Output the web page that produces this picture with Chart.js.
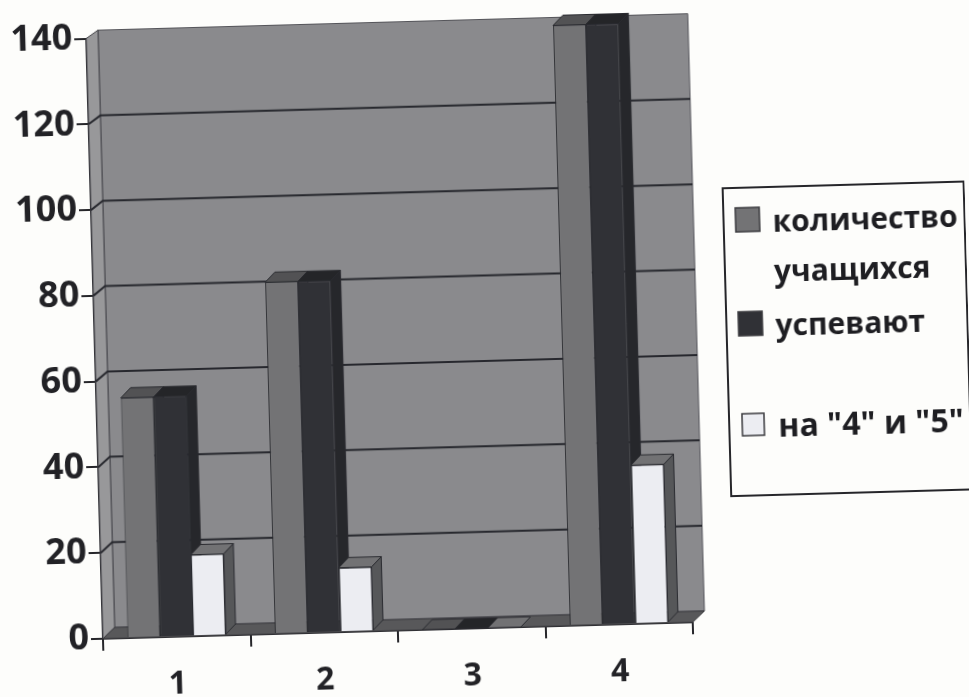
<!DOCTYPE html>
<html><head><meta charset="utf-8">
<style>
html,body{margin:0;padding:0;background:#fdfdfb;overflow:hidden;width:969px;height:697px}
#c{display:block;transform:rotate(-1.6deg);transform-origin:484px 348px}
</style>
<script src="https://cdn.jsdelivr.net/npm/chart.js@4"></script>
</head><body><canvas id="c" width="969" height="697"></canvas>
<script>
const categories = ['1','2','3','4'];
const studentsTotal = [56,82,0,140];
const studentsPassing = [56,82,0,140];
const studentsGood = [19,15,0,37];
const seriesNames = ['количество учащихся','успевают','на "4" и "5"'];
const legendLines = [['количество','учащихся'],['успевают'],['на "4" и "5"']];
const frontColors = ['#737375','#303136','#ecedf2'];
const sideColors = ['#565658','#26272b','#565759'];
const topColors = ['#525254','#242528','#727274'];

const WALL_DX = 12;
const WALL_DY_BOTTOM = 11;
const WALL_DY_TOP = 8;
const BAR_DEPTH = [10,10];
const FONT = '"Open Sans", sans-serif';

const depthPlugin = {
  id:'depth',
  beforeDatasetsDraw(chart){
    const {ctx,chartArea:a,scales:{y}} = chart;
    const dx = WALL_DX;
    const back = py => py-(WALL_DY_BOTTOM+(WALL_DY_TOP-WALL_DY_BOTTOM)*(a.bottom-py)/(a.bottom-a.top));
    const top = back(a.top), bot = back(a.bottom);
    const poly=(pts,fill,stroke)=>{
      ctx.beginPath();
      pts.forEach((p,i)=>i?ctx.lineTo(p[0],p[1]):ctx.moveTo(p[0],p[1]));
      ctx.closePath();
      ctx.fillStyle=fill;ctx.fill();
      if(stroke){ctx.strokeStyle=stroke;ctx.lineWidth=1;ctx.stroke();}
    };
    ctx.save();
    // back wall, side wall, floor
    poly([[a.left+dx,top],[a.right+dx,top],[a.right+dx,bot],[a.left+dx,bot]],'#8a8a8d','#55555a');
    poly([[a.left,a.top],[a.left+dx,top],[a.left+dx,bot],[a.left,a.bottom]],'#98989a','#45454a');
    poly([[a.left,a.bottom],[a.right,a.bottom],[a.right+dx,bot],[a.left+dx,bot]],'#58585a','#3a3a3e');
    // gridlines bent along the side wall and across the back wall
    ctx.strokeStyle='#27282e';ctx.lineWidth=2;
    y.ticks.forEach(t=>{
      if(t.value===0||t.value===y.max) return;
      const py=y.getPixelForValue(t.value);
      ctx.beginPath();ctx.moveTo(a.left,py);ctx.lineTo(a.left+dx,back(py));ctx.lineTo(a.right+dx,back(py));ctx.stroke();
    });
    // bar side and top faces
    const [bx,by]=BAR_DEPTH;
    chart.data.datasets.forEach((ds,i)=>{
      chart.getDatasetMeta(i).data.forEach(el=>{
        const p=el.getProps(['x','y','base','width'],true);
        const l=p.x-p.width/2,r=p.x+p.width/2;
        poly([[r,p.y],[r+bx,p.y-by],[r+bx,p.base-by],[r,p.base]],sideColors[i],'#2a2b30');
        poly([[l,p.y],[r,p.y],[r+bx,p.y-by],[l+bx,p.y-by]],topColors[i],'#2a2b30');
      });
    });
    ctx.restore();
  }
};

const legendPlugin = {
  id:'boxLegend',
  afterDraw(chart){
    const ctx=chart.ctx;
    ctx.save();
    ctx.strokeStyle='#26262a';ctx.lineWidth=2;
    ctx.strokeRect(727,195,241,308);
    const rows=[[227,24,30],[331,24,30],[432,22,32]];
    ctx.textBaseline='middle';ctx.textAlign='left';
    legendLines.forEach((lines,i)=>{
      const [cy,s,fs]=rows[i];
      ctx.fillStyle=frontColors[i];
      ctx.strokeStyle='#3a3a3e';ctx.lineWidth=1.5;
      ctx.fillRect(751-s/2,cy-s/2,s,s);ctx.strokeRect(751-s/2,cy-s/2,s,s);
      ctx.fillStyle='#1e1e22';
      ctx.font='bold '+fs+'px '+FONT;
      lines.forEach((t,j)=>ctx.fillText(t,776,cy+4+j*50));
    });
    ctx.restore();
  }
};

new Chart(document.getElementById('c'),{
  type:'bar',
  data:{labels:categories,datasets:[
    {label:seriesNames[0],data:studentsTotal,backgroundColor:frontColors[0],borderColor:'#2a2b30',borderWidth:1},
    {label:seriesNames[1],data:studentsPassing,backgroundColor:frontColors[1],borderColor:'#2a2b30',borderWidth:1},
    {label:seriesNames[2],data:studentsGood,backgroundColor:frontColors[2],borderColor:'#2a2b30',borderWidth:1}
  ]},
  options:{
    responsive:false,animation:false,devicePixelRatio:1,
    layout:{padding:{top:27.5,right:284,left:0,bottom:0}},
    plugins:{legend:{display:false},tooltip:{enabled:false},title:{display:false}},
    datasets:{bar:{categoryPercentage:0.667,barPercentage:1}},
    scales:{
      x:{
        afterFit(s){s.height=69;},
        grid:{drawOnChartArea:false,drawTicks:true,tickLength:12,color:'#26262a',lineWidth:2,offset:true},
        border:{color:'#26262a',width:2},
        ticks:{font:{family:'"Open Sans"',weight:'bold',size:32},color:'#222226',padding:17,maxRotation:0}
      },
      y:{
        min:0,max:140,
        afterFit(s){s.width=95;},
        grid:{drawOnChartArea:false,drawTicks:true,tickLength:12,color:'#26262a',lineWidth:2},
        border:{color:'#26262a',width:2},
        ticks:{stepSize:20,font:{family:'"Open Sans"',weight:'bold',size:36},color:'#222226',padding:2}
      }
    }
  },
  plugins:[depthPlugin,legendPlugin]
});
</script></body></html>
